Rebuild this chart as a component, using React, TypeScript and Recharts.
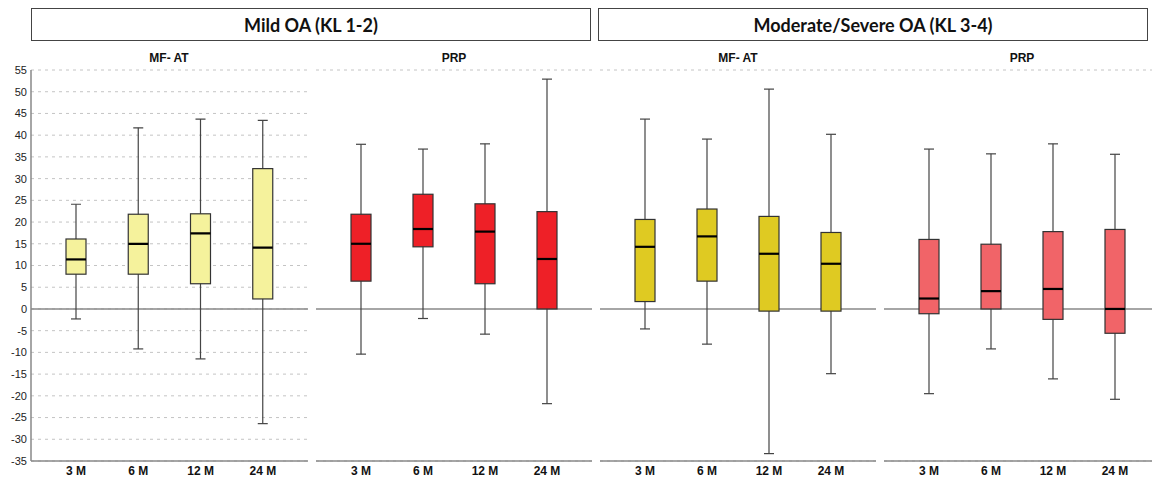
import React from 'react';
import { ComposedChart, Bar, XAxis, YAxis, CartesianGrid, ReferenceLine } from 'recharts';

const categories = ['3 M', '6 M', '12 M', '24 M'];
const yTicks = [55, 50, 45, 40, 35, 30, 25, 20, 15, 10, 5, 0, -5, -10, -15, -20, -25, -30, -35];

// each entry: [min, q1, median, q3, max]
const mildMfat = [
    [-2.3, 8.0, 11.4, 16.1, 24.1],
    [-9.2, 8.0, 15.0, 21.8, 41.7],
    [-11.5, 5.8, 17.4, 21.9, 43.7],
    [-26.4, 2.3, 14.1, 32.3, 43.4],
];
const mildPrp = [
    [-10.4, 6.4, 15.0, 21.8, 37.9],
    [-2.2, 14.3, 18.4, 26.4, 36.8],
    [-5.8, 5.8, 17.8, 24.2, 38.0],
    [-21.8, 0, 11.5, 22.4, 52.9],
];
const severeMfat = [
    [-4.6, 1.7, 14.3, 20.6, 43.7],
    [-8.1, 6.4, 16.7, 23.0, 39.1],
    [-33.3, -0.5, 12.7, 21.3, 50.6],
    [-14.9, -0.5, 10.4, 17.6, 40.2],
];
const severePrp = [
    [-19.5, -1.1, 2.4, 16.0, 36.8],
    [-9.2, 0, 4.1, 14.9, 35.7],
    [-16.1, -2.4, 4.6, 17.8, 38.0],
    [-20.8, -5.6, 0, 18.3, 35.6],
];

const BoxShape = (props: any) => {
    const { x, y, width, height, payload, fill } = props;
    const [min, q1, med, q3, max] = payload.stats;
    const top = Math.min(y, y + height);
    const bottom = Math.max(y, y + height);
    const k = (bottom - top) / (max - min);
    const py = (v: number) => top + (max - v) * k;
    const cx = x + width / 2;
    return (
        <g>
            <line x1={cx} x2={cx} y1={py(max)} y2={py(min)} stroke="#444" strokeWidth={1.2} />
            <line x1={cx - 5} x2={cx + 5} y1={py(max)} y2={py(max)} stroke="#444" strokeWidth={1.2} />
            <line x1={cx - 5} x2={cx + 5} y1={py(min)} y2={py(min)} stroke="#444" strokeWidth={1.2} />
            <rect x={x} y={py(q3)} width={width} height={py(q1) - py(q3)} fill={fill} stroke="#333" strokeWidth={1.2} />
            <line x1={x} x2={x + width} y1={py(med)} y2={py(med)} stroke="#000" strokeWidth={2.2} />
        </g>
    );
};

interface PanelProps {
    stats: number[][];
    color: string;
    left: number;
    width: number;
    showTicks?: boolean;
}

const Panel: React.FC<PanelProps> = ({ stats, color, left, width, showTicks }) => {
    const data = categories.map((label, i) => ({
        label,
        range: [stats[i][0], stats[i][4]],
        stats: stats[i],
    }));
    return (
        <div style={{ position: 'absolute', left, top: 60 }}>
            <ComposedChart
                width={width}
                height={420}
                data={data}
                margin={{ top: 10, right: 4, left: showTicks ? 0 : 4, bottom: 0 }}
            >
                <CartesianGrid horizontal vertical={false} stroke="#c4c4c4" strokeDasharray="3 4" />
                <XAxis
                    dataKey="label"
                    height={19}
                    padding={{ left: 14, right: 14 }}
                    tickLine={false}
                    tickSize={3}
                    axisLine={{ stroke: '#888', strokeWidth: 1.5 }}
                    tick={{ fill: '#111', fontSize: 12, fontWeight: 'bold', fontFamily: 'Liberation Sans, Arial' }}
                    interval={0}
                />
                <YAxis
                    type="number"
                    domain={[-35, 55]}
                    ticks={yTicks}
                    interval={0}
                    allowDataOverflow
                    width={showTicks ? 31 : 0}
                    tickLine={false}
                    tickSize={2}
                    tick={showTicks ? { fill: '#222', fontSize: 11, fontFamily: 'Liberation Sans, Arial' } : false}
                    axisLine={{ stroke: '#888', strokeWidth: 1.5 }}
                />
                {/* zero line, kept under the boxes */}
                <ReferenceLine y={0} stroke="#888" strokeWidth={1.5} {...({ zIndex: 50 } as any)} />
                <Bar dataKey="range" fill={color} barSize={20} shape={<BoxShape />} isAnimationActive={false} />
            </ComposedChart>
        </div>
    );
};

const headerStyle: React.CSSProperties = {
    position: 'absolute',
    top: 8,
    height: 33,
    border: '1px solid #444',
    display: 'flex',
    alignItems: 'center',
    justifyContent: 'center',
    fontFamily: 'Lato, "Open Sans", sans-serif',
    fontWeight: 'bold',
    fontSize: 18,
    color: '#111',
    boxSizing: 'border-box',
};

const subStyle: React.CSSProperties = {
    position: 'absolute',
    top: 51,
    width: 276,
    textAlign: 'center',
    fontFamily: 'Liberation Sans, Arial, sans-serif',
    fontWeight: 'bold',
    fontSize: 12,
    color: '#111',
};

const App: React.FC = () => {
    return (
        <div
            style={{
                position: 'absolute',
                left: 0,
                top: 0,
                width: 1152,
                height: 480,
                overflow: 'hidden',
                background: '#fff',
            }}
        >
            <div style={{ ...headerStyle, left: 31, width: 560 }}>Mild OA (KL 1-2)</div>
            <div style={{ ...headerStyle, left: 598, width: 550 }}>Moderate/Severe OA (KL 3-4)</div>

            <div style={{ ...subStyle, left: 31 }}>MF- AT</div>
            <div style={{ ...subStyle, left: 316 }}>PRP</div>
            <div style={{ ...subStyle, left: 600 }}>MF- AT</div>
            <div style={{ ...subStyle, left: 884 }}>PRP</div>

            <Panel stats={mildMfat} color="#f5f29c" left={0} width={312} showTicks />
            <Panel stats={mildPrp} color="#ee2027" left={312} width={284} />
            <Panel stats={severeMfat} color="#dfca22" left={596} width={284} />
            <Panel stats={severePrp} color="#f16468" left={880} width={284} />
        </div>
    );
};

export default App;
